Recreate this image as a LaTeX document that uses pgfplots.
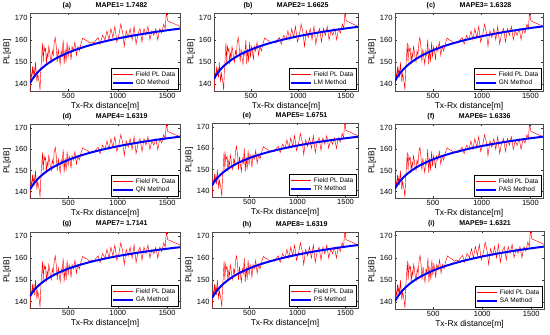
\documentclass[border=0pt]{standalone}
\usepackage{pgfplots}
\pgfplotsset{compat=1.18}
\usepackage{pgfplotstable}
\usepackage{fontspec}
\setmainfont{Liberation Sans}

\pgfplotstableread{
x y
110 136.5
115 141
120 145
128 143
135 148
142 144
150 147
158 143
165 150
172 146
180 141
188 145
195 143
203 141
212 137.4
220 147
228 152
236 158.6
244 150
252 157
260 155
268 156
276 149
284 154
292 152
300 157
308 155
316 152
326 150
336 155
346 153
356 159
366 161
376 157
386 150
396 156
406 152
416 149
426 155
436 153
446 160
456 149
466 156
476 150
486 159
496 152
506 157
516 155
526 151
536 157
550 155
565 159
580 153
595 157
610 155
625 158
645 160.8
665 160
690 159.5
715 158.5
740 159
760 158.5
780 160
800 161
820 158
845 162
870 160
890 164
910 160
930 165
950 161
970 166
990 159
1010 162
1030 167
1050 163
1065 157
1085 164
1105 161
1125 165
1145 160
1165 166
1185 158
1205 163
1225 165
1245 159
1265 165
1285 162
1305 166
1325 160
1345 164
1365 162
1385 165
1405 160
1425 165
1445 163
1465 167
1480 165
1492 172.5
1505 168.5
1630 166
}\field

\pgfplotstableread{
x A B C D E F
110 140.5 142.5 141.5 141 142.5 142.5
130 142.02 143.94 143.02 142.55 143.92 143.89
150 143.32 145.18 144.32 143.88 145.15 145.09
175 144.72 146.51 145.72 145.31 146.46 146.37
200 145.93 147.67 146.93 146.54 147.60 147.49
250 147.96 149.59 148.96 148.61 149.50 149.35
300 149.62 151.17 150.62 150.30 151.06 150.87
350 151.02 152.50 152.02 151.73 152.37 152.16
400 152.23 153.66 153.23 152.97 153.51 153.27
500 154.26 155.59 155.26 155.04 155.42 155.14
600 155.92 157.16 156.92 156.73 156.97 156.66
700 157.32 158.49 158.32 158.16 158.29 157.94
800 158.53 159.65 159.53 159.40 159.43 159.06
900 159.60 160.66 160.60 160.49 160.43 160.04
1000 160.56 161.58 161.56 161.47 161.33 160.92
1100 161.43 162.40 162.43 162.36 162.15 161.72
1200 162.22 163.16 163.22 163.16 162.89 162.45
1300 162.94 163.85 163.94 163.90 163.57 163.11
1400 163.62 164.49 164.62 164.59 164.20 163.73
1500 164.25 165.08 165.25 165.23 164.79 164.31
1630 165.0 165.8 166.0 166 165.5 165.0
}\fit

\pgfplotsset{
  panel/.style={
    scale only axis,
    anchor=north west,
    xmin=110, xmax=1630, ymin=137, ymax=172,
    xtick={500,1000,1500}, ytick={140,150,160,170},
    /pgf/number format/assume math mode=true,
    /pgf/number format/1000 sep={},
    scaled ticks=false,
    tick label style={font=\fontsize{7.5}{8.5}\selectfont},
    xticklabel style={yshift=1pt},
    yticklabel style={xshift=1pt},
    major tick length=2pt,
    tick style={black!80, line width=0.4pt},
    axis line style={black!70, line width=0.4pt},
    xlabel={Tx-Rx distance[m]},
    ylabel={PL[dB]},
    label style={font=\fontsize{8.5}{9.5}\selectfont},
    xlabel style={yshift=3pt},
    ylabel style={yshift=-3pt},
    title style={font=\bfseries\fontsize{7}{8}\selectfont, yshift=-5pt},
    legend cell align=left,
    legend style={at={(0.99,0.02)}, anchor=south east, font=\fontsize{6.5}{7.5}\selectfont,
      inner sep=1pt, row sep=-1.5pt},
    legend image code/.code={\draw[#1] (0pt,0pt) -- (20pt,0pt);},
  },
  field/.style={red, line width=0.45pt},
  fitl/.style={blue, line width=2pt, smooth},
}

\begin{document}
\begin{tikzpicture}
\useasboundingbox (0,0) rectangle (550pt,-335pt);
% row 1
\begin{axis}[panel, at={(30pt,-13pt)}, width=150pt, height=78pt,
  title={(a)\hspace{3.5em}MAPE1= 1.7482}]
\addplot[field] table[x=x,y=y]{\field};
\addplot[fitl] table[x=x,y=A]{\fit};
\legend{Field PL Data, GD Method}
\end{axis}
\begin{axis}[panel, at={(214pt,-13pt)}, width=144pt, height=78pt,
  title={(b)\hspace{3.5em}MAPE2= 1.6625}]
\addplot[field] table[x=x,y=y]{\field};
\addplot[fitl] table[x=x,y=B]{\fit};
\legend{Field PL Data, LM Method}
\end{axis}
\begin{axis}[panel, at={(395pt,-13pt)}, width=148pt, height=78pt,
  title={(c)\hspace{3.5em}MAPE3= 1.6328}]
\addplot[field] table[x=x,y=y]{\field};
\addplot[fitl] table[x=x,y=C]{\fit};
\legend{Field PL Data, GN Method}
\end{axis}
% row 2
\begin{axis}[panel, at={(30pt,-124pt)}, width=150pt, height=74pt,
  title={(d)\hspace{3.5em}MAPE4= 1.6319}]
\addplot[field] table[x=x,y=y]{\field};
\addplot[fitl] table[x=x,y=D]{\fit};
\legend{Field PL Data, QN Method}
\end{axis}
\begin{axis}[panel, at={(212pt,-123pt)}, width=146pt, height=74pt,
  title={(e)\hspace{3.5em}MAPE5= 1.6751}]
\addplot[field] table[x=x,y=y]{\field};
\addplot[fitl] table[x=x,y=E]{\fit};
\legend{Field PL Data, TR Method}
\end{axis}
\begin{axis}[panel, at={(395pt,-124pt)}, width=148pt, height=74pt,
  title={(f)\hspace{3.5em}MAPE6= 1.6336}]
\addplot[field] table[x=x,y=y]{\field};
\addplot[fitl] table[x=x,y=C]{\fit};
\legend{Field PL Data, PAS Method}
\end{axis}
% row 3
\begin{axis}[panel, at={(30pt,-232pt)}, width=150pt, height=76pt,
  title={(g)\hspace{3.5em}MAPE7= 1.7141}]
\addplot[field] table[x=x,y=y]{\field};
\addplot[fitl] table[x=x,y=F]{\fit};
\legend{Field PL Data, GA Method}
\end{axis}
\begin{axis}[panel, at={(212pt,-232pt)}, width=146pt, height=76pt,
  title={(h)\hspace{3.5em}MAPE8= 1.6319}]
\addplot[field] table[x=x,y=y]{\field};
\addplot[fitl] table[x=x,y=C]{\fit};
\legend{Field PL Data, PS Method}
\end{axis}
\begin{axis}[panel, at={(395pt,-231pt)}, width=149pt, height=78pt,
  title={(i)\hspace{3.5em}MAPE9= 1.6321}]
\addplot[field] table[x=x,y=y]{\field};
\addplot[fitl] table[x=x,y=A]{\fit};
\legend{Field PL Data, SA Method}
\end{axis}
\end{tikzpicture}
\end{document}
